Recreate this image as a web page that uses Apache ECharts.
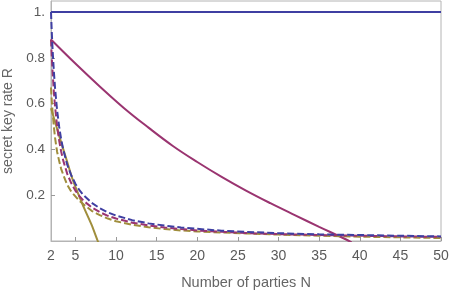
<!DOCTYPE html>
<html>
<head>
<meta charset="utf-8">
<script src="https://cdn.jsdelivr.net/npm/echarts@6/dist/echarts.min.js"></script>
<style>html,body{margin:0;padding:0;background:#fff;}#c{width:450px;height:292px;}</style>
</head>
<body>
<div id="c"></div>
<script>
// Data
const nGrid = [2, 2.1, 2.2, 2.35, 2.5, 2.75, 3, 3.25, 3.5, 4, 4.5, 5, 5.5, 6, 7, 8, 9, 10, 12, 14, 16, 18, 20, 23, 26, 30, 35, 40, 45, 50];
const blueDashed   = [1, 0.909, 0.833, 0.741, 0.667, 0.571, 0.5, 0.444, 0.4, 0.333, 0.286, 0.25, 0.222, 0.2, 0.167, 0.143, 0.125, 0.111, 0.091, 0.077, 0.067, 0.059, 0.053, 0.045, 0.04, 0.034, 0.029, 0.026, 0.023, 0.02];
const purpleDashed = [0.88, 0.8, 0.735, 0.652, 0.587, 0.503, 0.44, 0.391, 0.352, 0.293, 0.252, 0.22, 0.196, 0.176, 0.147, 0.126, 0.11, 0.098, 0.08, 0.068, 0.059, 0.052, 0.046, 0.04, 0.035, 0.03, 0.026, 0.023, 0.02, 0.018];
const oliveDashed  = [0.67, 0.61, 0.56, 0.5, 0.45, 0.39, 0.35, 0.315, 0.29, 0.245, 0.215, 0.195, 0.175, 0.16, 0.132, 0.113, 0.098, 0.086, 0.071, 0.06, 0.052, 0.046, 0.042, 0.037, 0.033, 0.028, 0.023, 0.019, 0.016, 0.013];

const blueSolidN = [2, 50];
const blueSolid  = [1, 1];
const purpleSolidN = [2, 5, 8, 11, 14, 17, 20, 23, 26, 29, 32, 35, 38, 39];
const purpleSolid  = [0.88, 0.775, 0.675, 0.58, 0.495, 0.415, 0.345, 0.28, 0.22, 0.165, 0.113, 0.062, 0.012, -0.006];
const oliveSolidN = [2, 3, 4, 4.75, 6, 7, 7.75, 8];
const oliveSolid  = [0.58, 0.46, 0.345, 0.26, 0.15, 0.07, 0.0, -0.02];

const xTickLabels = [2, 5, 10, 15, 20, 25, 30, 35, 40, 45, 50];
const xTicks = [5, 10, 15, 20, 25, 30, 35, 40, 45, 50];
const yTickLabels = [0.2, 0.4, 0.6, 0.8, 1];

const BLUE = '#3f3fa2', PURPLE = '#9a3470', OLIVE = '#a08e3c';
const FONT = 'Liberation Sans';
const zip = (xs, ys) => xs.map((x, i) => [x, ys[i]]);

function line(name, xs, ys, color, dashed, smooth) {
  return {
    name, type: 'line', data: zip(xs, ys), showSymbol: false, symbol: 'none',
    smooth: smooth, clip: true,
    lineStyle: { color, width: 2, type: dashed ? [7, 3] : 'solid' },
    emphasis: { disabled: true }
  };
}

const chart = echarts.init(document.getElementById('c'), null, { renderer: 'canvas' });
chart.setOption({
  animation: false,
  backgroundColor: '#fff',
  grid: { left: 51, right: 9, top: 1, bottom: 51, outerBoundsMode: 'none', containLabel: false,
          show: true, borderColor: '#b4b4b4', borderWidth: 1, backgroundColor: 'transparent' },
  xAxis: {
    type: 'value', min: 2, max: 50,
    name: 'Number of parties N', nameLocation: 'middle', nameGap: 34,
    nameTextStyle: { color: '#666', fontSize: 14.5, fontFamily: FONT },
    axisLine: { show: true, lineStyle: { color: '#b4b4b4' } },
    axisTick: { show: true, inside: true, length: 4, customValues: xTicks, lineStyle: { color: '#999' } },
    axisLabel: { customValues: xTickLabels, color: '#5a5a5a', fontSize: 14, fontFamily: FONT, margin: 8 },
    splitLine: { show: false }
  },
  yAxis: {
    type: 'value', min: 0, max: 1.048,
    name: 'secret key rate R', nameLocation: 'middle', nameGap: 35, nameRotate: 90,
    nameTextStyle: { color: '#666', fontSize: 14, fontFamily: FONT },
    axisLine: { show: true, lineStyle: { color: '#b4b4b4' } },
    axisTick: { show: true, inside: true, length: 4, customValues: yTickLabels, lineStyle: { color: '#999' } },
    axisLabel: { customValues: yTickLabels, color: '#5a5a5a', fontSize: 13.5, fontFamily: FONT, margin: 6,
      formatter: v => (v === 1 ? '1.' : v.toFixed(1)) },
    splitLine: { show: false }
  },
  series: [
    line('blue solid', blueSolidN, blueSolid, BLUE, false, false),
    line('purple solid', purpleSolidN, purpleSolid, PURPLE, false, 0.4),
    line('olive solid', oliveSolidN, oliveSolid, OLIVE, false, 0.3),
    line('olive dashed', nGrid, oliveDashed, OLIVE, true, false),
    line('purple dashed', nGrid, purpleDashed, PURPLE, true, false),
    line('blue dashed', nGrid, blueDashed, BLUE, true, false)
  ]
});
</script>
</body>
</html>
